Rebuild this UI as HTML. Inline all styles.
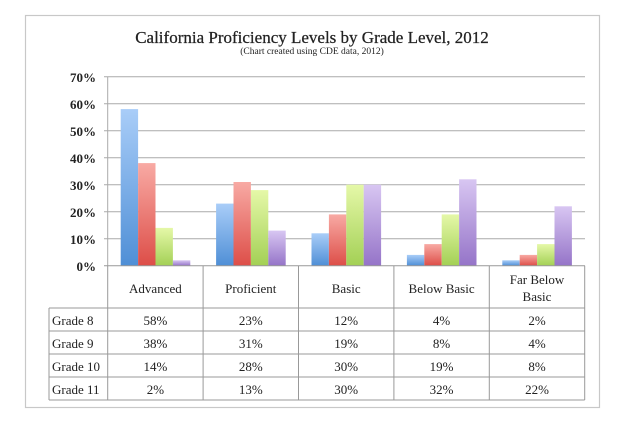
<!DOCTYPE html>
<html><head><meta charset="utf-8"><style>
body{margin:0;background:#fff;}
svg text{font-family:"Liberation Serif",serif;fill:#222;}
</style></head><body>
<svg width="624" height="425" xmlns="http://www.w3.org/2000/svg">
<defs>
<linearGradient id="b" x1="0" y1="0" x2="0" y2="1"><stop offset="0" stop-color="#a9cdf8"/><stop offset="1" stop-color="#4f8fd6"/></linearGradient>
<linearGradient id="r" x1="0" y1="0" x2="0" y2="1"><stop offset="0" stop-color="#f8aaa4"/><stop offset="1" stop-color="#dd4e48"/></linearGradient>
<linearGradient id="g" x1="0" y1="0" x2="0" y2="1"><stop offset="0" stop-color="#e5f8a8"/><stop offset="1" stop-color="#a3d055"/></linearGradient>
<linearGradient id="p" x1="0" y1="0" x2="0" y2="1"><stop offset="0" stop-color="#d8c6f2"/><stop offset="1" stop-color="#9574c8"/></linearGradient>
</defs>
<rect x="25.5" y="15.5" width="574" height="392" fill="#fff" stroke="#c8c8c8" stroke-width="1.2"/>
<text x="312" y="43" font-size="17" text-anchor="middle" stroke="#222" stroke-width="0.25">California Proficiency Levels by Grade Level, 2012</text>
<text x="312" y="54" font-size="9.5" text-anchor="middle">(Chart created using CDE data, 2012)</text>
<g stroke="#aaa" stroke-width="1">
<line x1="104" y1="76.7" x2="585" y2="76.7"/><line x1="104" y1="103.7" x2="585" y2="103.7"/>
<line x1="104" y1="130.7" x2="585" y2="130.7"/><line x1="104" y1="157.7" x2="585" y2="157.7"/>
<line x1="104" y1="184.7" x2="585" y2="184.7"/><line x1="104" y1="211.7" x2="585" y2="211.7"/>
<line x1="104" y1="238.7" x2="585" y2="238.7"/>
<line x1="107.7" y1="76.7" x2="107.7" y2="266"/>
</g>
<g font-size="13" text-anchor="end" font-weight="bold">
<text x="96" y="82">70%</text><text x="96" y="109">60%</text><text x="96" y="136">50%</text>
<text x="96" y="163">40%</text><text x="96" y="190">30%</text><text x="96" y="217">20%</text>
<text x="96" y="244">10%</text><text x="96" y="271">0%</text>
</g>
<g>
<rect x="120.7" y="109.1" width="17.4" height="156.6" fill="url(#b)"/>
<rect x="138.1" y="163.1" width="17.4" height="102.6" fill="url(#r)"/>
<rect x="155.5" y="227.9" width="17.4" height="37.8" fill="url(#g)"/>
<rect x="172.9" y="260.3" width="17.4" height="5.4" fill="url(#p)"/>
<rect x="216.1" y="203.6" width="17.4" height="62.1" fill="url(#b)"/>
<rect x="233.5" y="182" width="17.4" height="83.7" fill="url(#r)"/>
<rect x="250.9" y="190.1" width="17.4" height="75.6" fill="url(#g)"/>
<rect x="268.3" y="230.6" width="17.4" height="35.1" fill="url(#p)"/>
<rect x="311.5" y="233.3" width="17.4" height="32.4" fill="url(#b)"/>
<rect x="328.9" y="214.4" width="17.4" height="51.3" fill="url(#r)"/>
<rect x="346.3" y="184.7" width="17.4" height="81" fill="url(#g)"/>
<rect x="363.7" y="184.7" width="17.4" height="81" fill="url(#p)"/>
<rect x="406.9" y="254.9" width="17.4" height="10.8" fill="url(#b)"/>
<rect x="424.3" y="244.1" width="17.4" height="21.6" fill="url(#r)"/>
<rect x="441.7" y="214.4" width="17.4" height="51.3" fill="url(#g)"/>
<rect x="459.1" y="179.3" width="17.4" height="86.4" fill="url(#p)"/>
<rect x="502.3" y="260.3" width="17.4" height="5.4" fill="url(#b)"/>
<rect x="519.7" y="254.9" width="17.4" height="10.8" fill="url(#r)"/>
<rect x="537.1" y="244.1" width="17.4" height="21.6" fill="url(#g)"/>
<rect x="554.5" y="206.3" width="17.4" height="59.4" fill="url(#p)"/>
</g>
<g stroke="#999" stroke-width="1" fill="none">
<line x1="104" y1="265.7" x2="585" y2="265.7"/>
<line x1="107.7" y1="265.7" x2="107.7" y2="400"/>
<line x1="203.1" y1="265.7" x2="203.1" y2="400"/>
<line x1="298.5" y1="265.7" x2="298.5" y2="400"/>
<line x1="393.9" y1="265.7" x2="393.9" y2="400"/>
<line x1="489.3" y1="265.7" x2="489.3" y2="400"/>
<line x1="584.7" y1="265.7" x2="584.7" y2="400"/>
<line x1="49" y1="308" x2="584.7" y2="308"/>
<line x1="49" y1="331" x2="584.7" y2="331"/>
<line x1="49" y1="354" x2="584.7" y2="354"/>
<line x1="49" y1="377" x2="584.7" y2="377"/>
<line x1="49" y1="400" x2="584.7" y2="400"/>
<line x1="49" y1="308" x2="49" y2="400"/>
</g>
<g font-size="13" text-anchor="middle">
<text x="155.4" y="293">Advanced</text><text x="250.8" y="293">Proficient</text>
<text x="346.2" y="293">Basic</text><text x="441.6" y="293">Below Basic</text>
<text x="537" y="284">Far Below</text><text x="537" y="301">Basic</text>
</g>
<g font-size="13">
<text x="52" y="325">Grade 8</text><text x="52" y="348">Grade 9</text>
<text x="52" y="371">Grade 10</text><text x="52" y="394">Grade 11</text>
</g>
<g font-size="13" text-anchor="middle">
<text x="155.4" y="325">58%</text><text x="250.8" y="325">23%</text><text x="346.2" y="325">12%</text><text x="441.6" y="325">4%</text><text x="537" y="325">2%</text>
<text x="155.4" y="348">38%</text><text x="250.8" y="348">31%</text><text x="346.2" y="348">19%</text><text x="441.6" y="348">8%</text><text x="537" y="348">4%</text>
<text x="155.4" y="371">14%</text><text x="250.8" y="371">28%</text><text x="346.2" y="371">30%</text><text x="441.6" y="371">19%</text><text x="537" y="371">8%</text>
<text x="155.4" y="394">2%</text><text x="250.8" y="394">13%</text><text x="346.2" y="394">30%</text><text x="441.6" y="394">32%</text><text x="537" y="394">22%</text>
</g>
</svg>
</body></html>
